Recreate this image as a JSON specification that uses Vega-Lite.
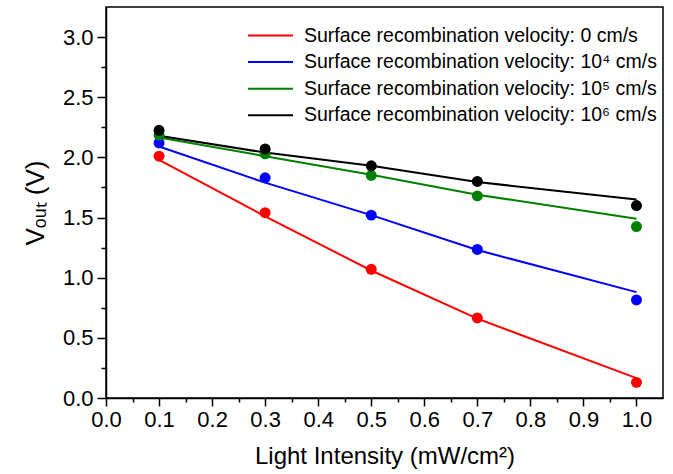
{
  "$schema": "https://vega.github.io/schema/vega-lite/v6.json",
  "width": 557,
  "height": 391,
  "autosize": {"type": "none"},
  "padding": {"left": 106, "top": 7, "right": 10, "bottom": 76},
  "background": "white",
  "config": {
    "view": {"stroke": "black", "strokeWidth": 1.5},
    "font": "Liberation Sans"
  },
  "data": {
    "values": [
      {"series": "Surface recombination velocity: 0 cm/s", "kind": "fit", "x": 0.1, "y": 1.98},
      {"series": "Surface recombination velocity: 0 cm/s", "kind": "fit", "x": 0.3, "y": 1.51},
      {"series": "Surface recombination velocity: 0 cm/s", "kind": "fit", "x": 0.5, "y": 1.06},
      {"series": "Surface recombination velocity: 0 cm/s", "kind": "fit", "x": 0.7, "y": 0.66},
      {"series": "Surface recombination velocity: 0 cm/s", "kind": "fit", "x": 1.0, "y": 0.165},
      {"series": "Surface recombination velocity: 10⁴ cm/s", "kind": "fit", "x": 0.1, "y": 2.09},
      {"series": "Surface recombination velocity: 10⁴ cm/s", "kind": "fit", "x": 0.3, "y": 1.79},
      {"series": "Surface recombination velocity: 10⁴ cm/s", "kind": "fit", "x": 0.5, "y": 1.52},
      {"series": "Surface recombination velocity: 10⁴ cm/s", "kind": "fit", "x": 0.7, "y": 1.23},
      {"series": "Surface recombination velocity: 10⁴ cm/s", "kind": "fit", "x": 1.0, "y": 0.88},
      {"series": "Surface recombination velocity: 10⁵ cm/s", "kind": "fit", "x": 0.1, "y": 2.165},
      {"series": "Surface recombination velocity: 10⁵ cm/s", "kind": "fit", "x": 0.3, "y": 2.01},
      {"series": "Surface recombination velocity: 10⁵ cm/s", "kind": "fit", "x": 0.5, "y": 1.855},
      {"series": "Surface recombination velocity: 10⁵ cm/s", "kind": "fit", "x": 0.7, "y": 1.69},
      {"series": "Surface recombination velocity: 10⁵ cm/s", "kind": "fit", "x": 1.0, "y": 1.49},
      {"series": "Surface recombination velocity: 10⁶ cm/s", "kind": "fit", "x": 0.1, "y": 2.18},
      {"series": "Surface recombination velocity: 10⁶ cm/s", "kind": "fit", "x": 0.3, "y": 2.04},
      {"series": "Surface recombination velocity: 10⁶ cm/s", "kind": "fit", "x": 0.5, "y": 1.93},
      {"series": "Surface recombination velocity: 10⁶ cm/s", "kind": "fit", "x": 0.7, "y": 1.795},
      {"series": "Surface recombination velocity: 10⁶ cm/s", "kind": "fit", "x": 1.0, "y": 1.65},
      {"series": "Surface recombination velocity: 0 cm/s", "kind": "measured", "x": 0.1, "y": 2.01},
      {"series": "Surface recombination velocity: 0 cm/s", "kind": "measured", "x": 0.3, "y": 1.54},
      {"series": "Surface recombination velocity: 0 cm/s", "kind": "measured", "x": 0.5, "y": 1.07},
      {"series": "Surface recombination velocity: 0 cm/s", "kind": "measured", "x": 0.7, "y": 0.665},
      {"series": "Surface recombination velocity: 0 cm/s", "kind": "measured", "x": 1.0, "y": 0.13},
      {"series": "Surface recombination velocity: 10⁴ cm/s", "kind": "measured", "x": 0.1, "y": 2.12},
      {"series": "Surface recombination velocity: 10⁴ cm/s", "kind": "measured", "x": 0.3, "y": 1.83},
      {"series": "Surface recombination velocity: 10⁴ cm/s", "kind": "measured", "x": 0.5, "y": 1.52},
      {"series": "Surface recombination velocity: 10⁴ cm/s", "kind": "measured", "x": 0.7, "y": 1.235},
      {"series": "Surface recombination velocity: 10⁴ cm/s", "kind": "measured", "x": 1.0, "y": 0.815},
      {"series": "Surface recombination velocity: 10⁵ cm/s", "kind": "measured", "x": 0.1, "y": 2.185},
      {"series": "Surface recombination velocity: 10⁵ cm/s", "kind": "measured", "x": 0.3, "y": 2.03},
      {"series": "Surface recombination velocity: 10⁵ cm/s", "kind": "measured", "x": 0.5, "y": 1.85},
      {"series": "Surface recombination velocity: 10⁵ cm/s", "kind": "measured", "x": 0.7, "y": 1.68},
      {"series": "Surface recombination velocity: 10⁵ cm/s", "kind": "measured", "x": 1.0, "y": 1.425},
      {"series": "Surface recombination velocity: 10⁶ cm/s", "kind": "measured", "x": 0.1, "y": 2.225},
      {"series": "Surface recombination velocity: 10⁶ cm/s", "kind": "measured", "x": 0.3, "y": 2.07},
      {"series": "Surface recombination velocity: 10⁶ cm/s", "kind": "measured", "x": 0.5, "y": 1.93},
      {"series": "Surface recombination velocity: 10⁶ cm/s", "kind": "measured", "x": 0.7, "y": 1.80},
      {"series": "Surface recombination velocity: 10⁶ cm/s", "kind": "measured", "x": 1.0, "y": 1.60}
    ]
  },
  "encoding": {
    "x": {
      "field": "x", "type": "quantitative",
      "scale": {"domain": [0, 1.05], "nice": false, "zero": false},
      "axis": {
        "title": "Light Intensity (mW/cm²)",
        "titleFont": "Liberation Sans", "titleFontSize": 24, "titleFontWeight": "normal", "titlePadding": 14,
        "values": [0, 0.05, 0.1, 0.15, 0.2, 0.25, 0.3, 0.35, 0.4, 0.45, 0.5, 0.55, 0.6, 0.65, 0.7, 0.75, 0.8, 0.85, 0.9, 0.95, 1.0],
        "labelExpr": "round(datum.value*100) % 10 == 0 ? format(datum.value, '.1f') : ''",
        "labelFont": "Liberation Sans", "labelFontSize": 22, "labelColor": "black", "labelPadding": 3,
        "labelFlush": false, "labelOverlap": false,
        "tickColor": "black", "tickWidth": 1.5,
        "tickSize": {"condition": {"test": "round(datum.value*100) % 10 != 0", "value": 4}, "value": 8},
        "domainColor": "black", "domainWidth": 1.5, "grid": false
      }
    },
    "y": {
      "field": "y", "type": "quantitative",
      "scale": {"domain": [0, 3.25], "nice": false, "zero": false},
      "axis": {
        "title": "Vₒᵤₜ (V)",
        "titleFont": "Liberation Sans", "titleFontSize": 26, "titleFontWeight": "normal", "titlePadding": 14,
        "values": [0, 0.25, 0.5, 0.75, 1.0, 1.25, 1.5, 1.75, 2.0, 2.25, 2.5, 2.75, 3.0],
        "labelExpr": "round(datum.value*100) % 50 == 0 ? format(datum.value, '.1f') : ''",
        "labelFont": "Liberation Sans", "labelFontSize": 22, "labelColor": "black", "labelPadding": 4,
        "labelFlush": false, "labelOverlap": false,
        "tickColor": "black", "tickWidth": 1.5,
        "tickSize": {"condition": {"test": "round(datum.value*100) % 50 != 0", "value": 5}, "value": 9},
        "domainColor": "black", "domainWidth": 1.5, "grid": false
      }
    },
    "color": {
      "field": "series", "type": "nominal",
      "scale": {
        "domain": ["Surface recombination velocity: 0 cm/s", "Surface recombination velocity: 10⁴ cm/s", "Surface recombination velocity: 10⁵ cm/s", "Surface recombination velocity: 10⁶ cm/s"],
        "range": ["#ff0000", "#0000ff", "#008000", "#000000"]
      }
    }
  },
  "layer": [
    {
      "transform": [{"filter": "datum.kind == 'fit'"}],
      "mark": {"type": "line", "strokeWidth": 2},
      "encoding": {
        "color": {
          "field": "series", "type": "nominal",
          "legend": {
            "orient": "none", "legendX": 152, "legendY": 16, "title": null,
            "labelFont": "Liberation Sans", "labelFontSize": 19.5, "labelColor": "black", "labelLimit": 600,
            "symbolType": "M-2,0H2", "symbolSize": 506, "symbolStrokeWidth": 2,
            "labelOffset": 21, "rowPadding": 4.6, "padding": 0
          }
        }
      }
    },
    {
      "transform": [{"filter": "datum.kind == 'measured'"}],
      "mark": {"type": "circle", "size": 120, "opacity": 1},
      "encoding": {
        "color": {"field": "series", "type": "nominal", "legend": null}
      }
    }
  ]
}
